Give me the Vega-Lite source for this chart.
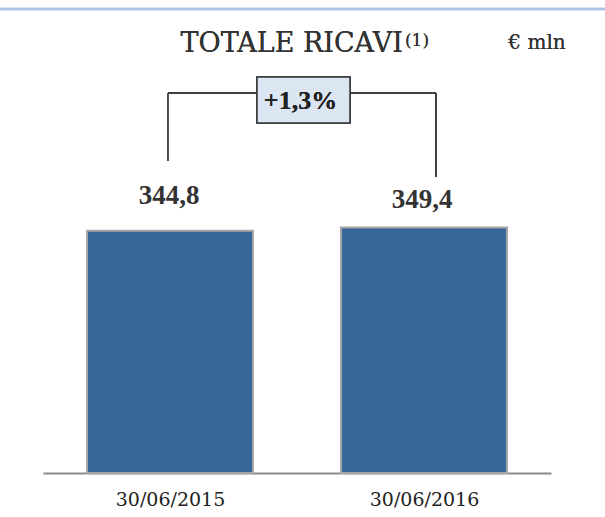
{
  "$schema": "https://vega.github.io/schema/vega-lite/v6.json",
  "autosize": "none",
  "width": 508,
  "height": 473,
  "padding": {"left": 43, "top": 0, "right": 54, "bottom": 44},
  "config": {
    "view": {"stroke": null},
    "locale": {"number": {"decimal": ",", "thousands": ".", "grouping": [3], "currency": ["", " €"]}}
  },
  "data": {"values": [
    {"periodo": "30/06/2015", "ricavi": 344.8},
    {"periodo": "30/06/2016", "ricavi": 349.4}
  ]},
  "layer": [
    {
      "encoding": {
        "x": {"field": "periodo", "type": "ordinal", "sort": null,
          "scale": {"type": "point", "padding": 0.5},
          "axis": {"title": null, "ticks": false, "grid": false, "domainColor": "#8c8c8c", "domainWidth": 2,
            "labelFont": "DejaVu Serif", "labelFontSize": 19, "labelColor": "#222222", "labelAngle": 0,
            "labelBaseline": "alphabetic", "labelPadding": 32}},
        "y": {"field": "ricavi", "type": "quantitative", "scale": {"domain": [0, 673], "nice": false, "zero": true}, "axis": null}
      },
      "layer": [
        {"mark": {"type": "bar", "width": 166, "fill": "#35679b", "stroke": "#a6a6a6", "strokeWidth": 2}},
        {"transform": [{"filter": "datum.periodo == '30/06/2015'"}],
         "mark": {"type": "text", "font": "Liberation Serif", "fontWeight": "bold", "fontSize": 27, "color": "#333333", "baseline": "alphabetic", "dy": -27, "dx": -1},
         "encoding": {"text": {"field": "ricavi", "type": "quantitative", "format": ".1f"}}},
        {"transform": [{"filter": "datum.periodo == '30/06/2016'"}],
         "mark": {"type": "text", "font": "Liberation Serif", "fontWeight": "bold", "fontSize": 27, "color": "#333333", "baseline": "alphabetic", "dy": -19, "dx": -2},
         "encoding": {"text": {"field": "ricavi", "type": "quantitative", "format": ".1f"}}}
      ]
    },
    {
      "layer": [
        {"mark": {"type": "rule", "color": "#a9c4e2", "strokeWidth": 2.5},
         "encoding": {
           "x": {"datum": 0.3307, "type": "quantitative", "scale": {"domain": [0.5, 2.5], "nice": false, "zero": false}, "axis": null},
           "x2": {"datum": 2.7126},
           "y": {"datum": 660.2, "type": "quantitative", "scale": {"domain": [0, 673], "nice": false}, "axis": null}}},
        {"mark": {"type": "rule", "color": "#333333", "strokeWidth": 1.5},
         "encoding": {
           "x": {"datum": 0.992, "type": "quantitative", "scale": {"domain": [0.5, 2.5], "nice": false, "zero": false}, "axis": null},
           "x2": {"datum": 2.047},
           "y": {"datum": 540.7, "type": "quantitative", "scale": {"domain": [0, 673], "nice": false}, "axis": null}}},
        {"mark": {"type": "rule", "color": "#444444", "strokeWidth": 1.5},
         "encoding": {
           "x": {"datum": 0.992, "type": "quantitative", "scale": {"domain": [0.5, 2.5], "nice": false, "zero": false}, "axis": null},
           "y": {"datum": 443.9, "type": "quantitative", "scale": {"domain": [0, 673], "nice": false}, "axis": null},
           "y2": {"datum": 540.7}}},
        {"mark": {"type": "rule", "color": "#333333", "strokeWidth": 1.5},
         "encoding": {
           "x": {"datum": 2.047, "type": "quantitative", "scale": {"domain": [0.5, 2.5], "nice": false, "zero": false}, "axis": null},
           "y": {"datum": 421.2, "type": "quantitative", "scale": {"domain": [0, 673], "nice": false}, "axis": null},
           "y2": {"datum": 540.7}}},
        {"mark": {"type": "rect", "fill": "#dce6f2", "stroke": "#333333", "strokeWidth": 1.5},
         "encoding": {
           "x": {"datum": 1.3425, "type": "quantitative", "scale": {"domain": [0.5, 2.5], "nice": false, "zero": false}, "axis": null},
           "x2": {"datum": 1.7087},
           "y": {"datum": 498.0, "type": "quantitative", "scale": {"domain": [0, 673], "nice": false}, "axis": null},
           "y2": {"datum": 563.4}}},
        {"mark": {"type": "text", "text": "+1,3%", "font": "Liberation Serif", "fontWeight": "bold", "fontSize": 26, "color": "#222222", "baseline": "alphabetic", "align": "center"},
         "encoding": {
           "x": {"datum": 1.5138, "type": "quantitative", "scale": {"domain": [0.5, 2.5], "nice": false, "zero": false}, "axis": null},
           "y": {"datum": 517.9, "type": "quantitative", "scale": {"domain": [0, 673], "nice": false}, "axis": null}}},
        {"mark": {"type": "text", "text": "TOTALE RICAVI", "font": "DejaVu Serif", "fontSize": 27, "color": "#333333", "baseline": "alphabetic", "align": "right"},
         "encoding": {
           "x": {"datum": 1.917, "type": "quantitative", "scale": {"domain": [0.5, 2.5], "nice": false, "zero": false}, "axis": null},
           "y": {"datum": 599.0, "type": "quantitative", "scale": {"domain": [0, 673], "nice": false}, "axis": null}}},
        {"mark": {"type": "text", "text": "(1)", "font": "DejaVu Serif", "fontSize": 17, "color": "#333333", "baseline": "alphabetic", "align": "left"},
         "encoding": {
           "x": {"datum": 1.925, "type": "quantitative", "scale": {"domain": [0.5, 2.5], "nice": false, "zero": false}, "axis": null},
           "y": {"datum": 607.0, "type": "quantitative", "scale": {"domain": [0, 673], "nice": false}, "axis": null}}},
        {"mark": {"type": "text", "text": "€ mln", "font": "DejaVu Serif", "fontSize": 20, "color": "#333333", "baseline": "alphabetic", "align": "center"},
         "encoding": {
           "x": {"datum": 2.445, "type": "quantitative", "scale": {"domain": [0.5, 2.5], "nice": false, "zero": false}, "axis": null},
           "y": {"datum": 603.3, "type": "quantitative", "scale": {"domain": [0, 673], "nice": false}, "axis": null}}}
      ]
    }
  ],
  "resolve": {"scale": {"x": "independent"}}
}
